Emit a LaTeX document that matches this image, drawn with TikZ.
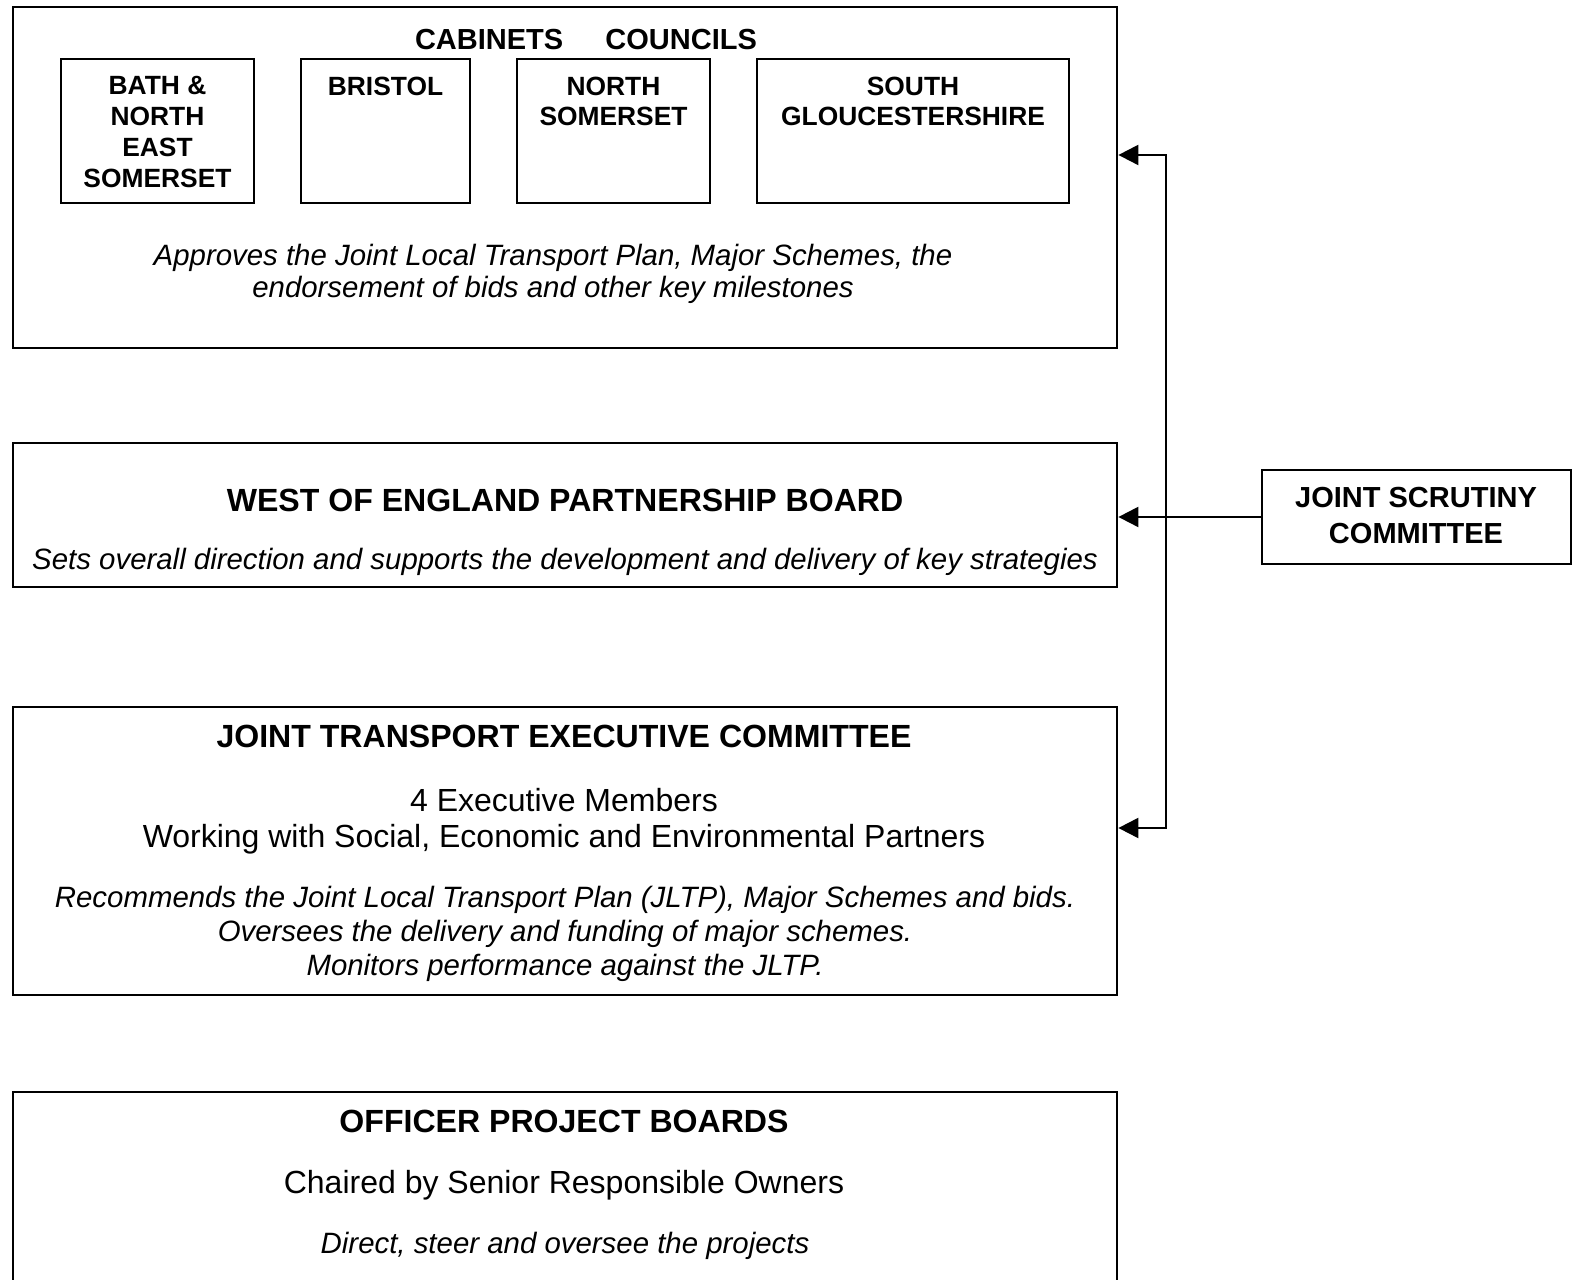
\documentclass[tikz,border=0pt]{standalone}
\usepackage{fontspec}
\setmainfont{Liberation Sans}
\usetikzlibrary{arrows.meta}

\tikzset{
  box/.style={draw, line width=0.6pt, inner sep=0pt},
  ttl/.style={font=\fontsize{9.12}{10}\selectfont\bfseries, inner sep=0pt},
  hdr/.style={font=\fontsize{8.25}{10}\selectfont\bfseries, align=center, inner sep=0pt},
  cnl/.style={font=\fontsize{7.5}{8.73}\selectfont\bfseries, align=center, inner sep=0pt},
  rem/.style={font=\fontsize{8.36}{#1}\selectfont\itshape, align=center, inner sep=0pt},
  rem/.default=9.4pt,
  txt/.style={font=\fontsize{9.1}{10}\selectfont, align=center, inner sep=0pt},
  link/.style={line width=0.6pt, -{Triangle[length=5.7pt,width=5.7pt]}},
}

\begin{document}
\begin{tikzpicture}[x=0.01cm,y=-0.01cm]
              \clip (0,0) rectangle (1573,1280);

              \node[box, minimum width=11.04cm, minimum height=3.41cm] (cab) at (565,177.5) {};
                \node[hdr, anchor=base] (cab-t) at (586,50) {CABINETS\hspace{12pt}COUNCILS};
              \node[box, minimum width=1.93cm, minimum height=1.44cm] (bnes) at (157.5,131) {};
                \node[cnl, anchor=north] (bnes-t) at (157.5,76) {BATH \&\\NORTH\\EAST\\SOMERSET};
              \node[box, minimum width=1.69cm, minimum height=1.44cm] (bri) at (385.5,131) {};
                \node[cnl, anchor=north] (bri-t) at (385.5,76) {BRISTOL};
              \node[box, minimum width=1.93cm, minimum height=1.44cm] (nsom) at (613.5,131) {};
                \node[cnl, anchor=north] (nsom-t) at (613.5,76) {NORTH\\SOMERSET};
              \node[box, minimum width=3.12cm, minimum height=1.44cm] (sglo) at (913,131) {};
                \node[cnl, anchor=north] (sglo-t) at (913,76) {SOUTH\\GLOUCESTERSHIRE};
                \node[rem=9.1pt, anchor=north] (cab-n) at (553,244) {Approves the Joint Local Transport Plan, Major Schemes, the\\endorsement of bids and other key milestones};

              \node[box, minimum width=11.04cm, minimum height=1.44cm] (wep) at (565,515) {};
                \node[ttl, anchor=base] (wep-t) at (565,512) {WEST OF ENGLAND PARTNERSHIP BOARD};
                \node[rem, anchor=base] (wep-n) at (565,570) {Sets overall direction and supports the development and delivery of key strategies};

              \node[box, minimum width=11.04cm, minimum height=2.88cm] (jtec) at (565,851) {};
                \node[ttl, anchor=base] (jtec-t) at (564,748) {JOINT TRANSPORT EXECUTIVE COMMITTEE};
                \node[txt, anchor=north] (jtec-m) at (564,788) {4 Executive Members\\Working with Social, Economic and Environmental Partners};
                \node[rem=9.67pt, anchor=north] (jtec-n) at (565,885) {Recommends the Joint Local Transport Plan (JLTP), Major Schemes and bids.\\Oversees the delivery and funding of major schemes.\\Monitors performance against the JLTP.};

              \node[box, minimum width=11.04cm, minimum height=2.28cm] (opb) at (565,1206) {};
                \node[ttl, anchor=base] (opb-t) at (564,1133) {OFFICER PROJECT BOARDS};
                \node[txt, anchor=base] (opb-m) at (564,1193) {Chaired by Senior Responsible Owners};
                \node[rem, anchor=base] (opb-n) at (565,1253) {Direct, steer and oversee the projects};

              \node[box, minimum width=3.09cm, minimum height=0.94cm] (jsc) at (1416.5,517) {};
                \node[hdr, anchor=north] (jsc-t) at (1416,487) {JOINT SCRUTINY\\COMMITTEE};

              \coordinate (bus-top) at (1166,155);
              \coordinate (bus-bot) at (1166,828);
              \draw[link] (bus-bot) -- (bus-top) -- (bus-top -| cab.east);
              \draw[link] (bus-top) -- (bus-bot) -- (bus-bot -| jtec.east);
              \draw[link] (jsc.west) -- (jsc.west -| wep.east);

            \end{tikzpicture}
\end{document}
